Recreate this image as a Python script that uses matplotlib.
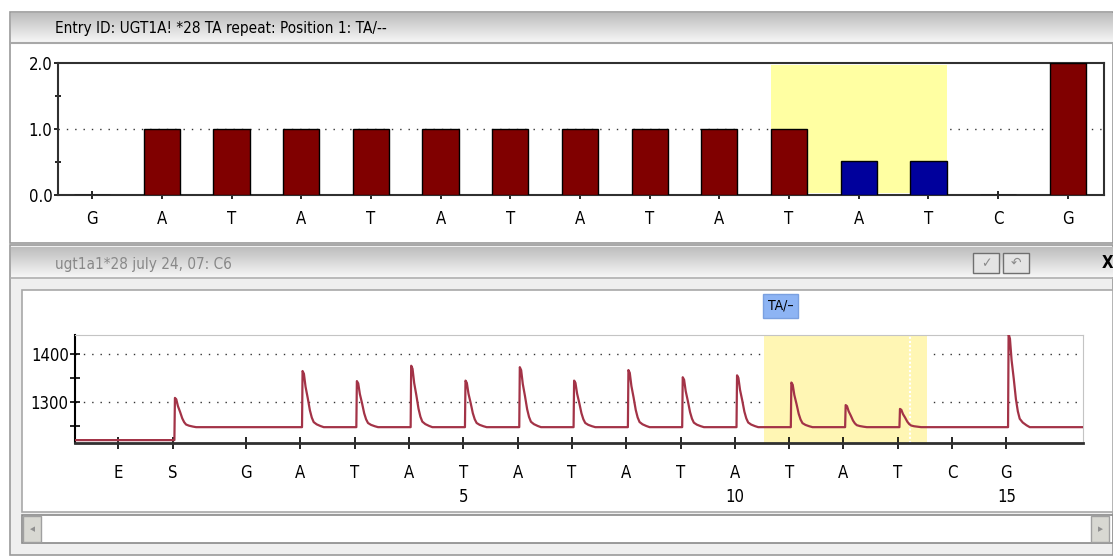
import numpy as np
import matplotlib
matplotlib.use("Agg")
import matplotlib.pyplot as plt
from matplotlib.patches import Rectangle
import matplotlib.transforms as mtransforms

plt.rcParams['font.family'] = ['DejaVu Sans']
plt.rcParams['font.stretch'] = 'condensed'

W, H = 1113, 556

# ---- data: histogram (top panel) ----
hist_labels = ['G', 'A', 'T', 'A', 'T', 'A', 'T', 'A', 'T', 'A', 'T', 'A', 'T', 'C', 'G']
hist_values = [0, 1, 1, 1, 1, 1, 1, 1, 1, 1, 1, 0.52, 0.52, 0, 2.0]
hist_variable = [False] * 11 + [True, True] + [False, False]
hist_span = (9.74, 12.26)

# ---- data: pyrogram (bottom panel) ----
disp_labels = ['E', 'S', 'G', 'A', 'T', 'A', 'T', 'A', 'T', 'A', 'T', 'A', 'T', 'A', 'T', 'C', 'G']
disp_pos = [-1.35, -0.35] + list(range(1, 16))
disp_numbers = [5, 10, 15]
peak_pos = [-0.35, 2, 3, 4, 5, 6, 7, 8, 9, 10, 11, 12, 13, 15]
peak_top = [1309, 1365, 1344, 1376, 1345, 1373, 1345, 1367, 1352, 1356, 1341, 1294, 1286, 1442]
pre_level = 1221
base_level = 1248
# peak profile: offset (dispensations) vs fraction of height
profile_dx = [0.0, 0.01, 0.035, 0.065, 0.105, 0.145, 0.18, 0.215, 0.27, 0.34, 0.40]
profile_fr = [0.0, 1.0, 0.95, 0.72, 0.52, 0.30, 0.17, 0.09, 0.05, 0.02, 0.0]
trace_span = (10.54, 13.54)
trace_gap = 13.23
variant_label = 'TA/\u2013'

title_top = 'Entry ID: UGT1A! *28 TA repeat: Position 1: TA/--'
title_bottom = 'ugt1a1*28 july 24, 07: C6'


def px_box(x0, y0, x1, y1):
    return [x0 / W, 1 - y1 / H, (x1 - x0) / W, (y1 - y0) / H]


fig = plt.figure(figsize=(W / 100, H / 100), dpi=100, facecolor='white')

# window chrome drawn in pixel coordinates
bg = fig.add_axes([0, 0, 1, 1])
bg.set_xlim(0, W)
bg.set_ylim(H, 0)
bg.axis('off')

grad = np.linspace(0, 1, 50).reshape(-1, 1)
bar_cmap = matplotlib.colors.LinearSegmentedColormap.from_list('bar', ['#bdbdbd', '#f6f6f6'])

# top window
bg.add_patch(Rectangle((10, 12), W - 10, 231, fc='white', ec='#9a9a9a', lw=1.2))
bg.imshow(grad, cmap=bar_cmap, aspect='auto', extent=(11, W, 42, 13), zorder=2)
bg.plot([11, W], [42.5, 42.5], color='#a8a8a8', lw=1.5, zorder=3)
bg.text(55, 28, title_top, fontsize=11, va='center', ha='left', color='black', zorder=4)

# bottom window
bg.add_patch(Rectangle((10, 245), W - 10, 310, fc='#efefef', ec='#9a9a9a', lw=1.2))
bg.imshow(grad, cmap=bar_cmap, aspect='auto', extent=(11, W, 277, 247), zorder=2)
bg.plot([11, W], [277.5, 277.5], color='#b0b0b0', lw=1.2, zorder=3)
bg.text(55, 264, title_bottom, fontsize=11, va='center', ha='left', color='#888888', zorder=4)
bg.add_patch(Rectangle((22, 290), W - 22, 222, fc='white', ec='#a8a8a8', lw=1.2, zorder=2))

# buttons in the bottom title bar
for bx, sym in [(973, '\u2713'), (1003, '\u21b6')]:
    bg.add_patch(Rectangle((bx, 253), 26, 20, fc='#e4e4e4', ec='#707070', lw=1.0, zorder=4))
    bg.text(bx + 13, 263, sym, fontsize=10, ha='center', va='center', color='#8a8a8a',
            family='DejaVu Sans', zorder=5)
bg.text(1107, 263, 'X', fontsize=12, ha='center', va='center', color='black',
        fontweight='bold', family='DejaVu Sans', zorder=5)

# scrollbar
bg.add_patch(Rectangle((22, 515), W - 22, 28, fc='white', ec='#8a8a8a', lw=1.2, zorder=2))
bg.add_patch(Rectangle((23, 516), 18, 26, fc='#d8d8d2', ec='#a0a0a0', lw=1.0, zorder=3))
bg.add_patch(Rectangle((1091, 516), 18, 26, fc='#d8d8d2', ec='#a0a0a0', lw=1.0, zorder=3))
bg.text(32, 529, '\u25c2', fontsize=8, ha='center', va='center', color='#909090',
        family='DejaVu Sans', zorder=4)
bg.text(1100, 529, '\u25b8', fontsize=8, ha='center', va='center', color='#909090',
        family='DejaVu Sans', zorder=4)

# ---- top panel: histogram ----
ax1 = fig.add_axes(px_box(58, 63, 1104, 195))
x_hist = np.arange(len(hist_labels))
ax1.axvspan(hist_span[0], hist_span[1], ymin=0.012, ymax=0.988, color='#ffffa2', zorder=1, lw=0)
ax1.axhline(1.0, color='#333333', lw=1.0, ls=(0, (1, 5)), zorder=0.5)
colors = ['#00009c' if v else '#800000' for v in hist_variable]
ax1.bar(x_hist, hist_values, width=0.52, color=colors, edgecolor='black', lw=1.0, zorder=3)
ax1.set_xlim(-0.49, 14.52)
ax1.set_ylim(0, 2.0)
ax1.set_xticks(x_hist)
ax1.set_xticklabels(hist_labels, fontsize=12)
ax1.set_yticks([0, 1.0, 2.0])
ax1.set_yticklabels(['0.0', '1.0', '2.0'], fontsize=12)
ax1.set_yticks([0.5, 1.5], minor=True)
ax1.tick_params(axis='x', direction='inout', length=6, width=1.2, pad=8)
ax1.tick_params(axis='y', which='major', direction='out', length=3, width=1.2, pad=1)
ax1.tick_params(axis='y', which='minor', direction='inout', length=5, width=1.2)
for s in ax1.spines.values():
    s.set_color('#303030')
    s.set_linewidth(1.5)
ax1.set_facecolor('none')

# ---- bottom panel: pyrogram ----
ax2 = fig.add_axes(px_box(75, 335, 1083, 443))
x_left, x_right = -2.15, 16.41
tx = [x_left]
ty = [pre_level]
level = pre_level
for pos, top in zip(peak_pos, peak_top):
    x0 = pos + 0.03
    tx.append(x0)
    ty.append(level)
    for dx, fr in zip(profile_dx[1:], profile_fr[1:]):
        tx.append(x0 + dx)
        ty.append(base_level + (top - base_level) * fr)
    level = base_level
tx.append(x_right)
ty.append(base_level)

for yv in [1300, 1400]:
    ax2.axhline(yv, color='#333333', lw=1.0, ls=(0, (1, 5)), zorder=0.5)
ax2.axvspan(trace_span[0], trace_span[1], color='#fff6b4', lw=0, zorder=1)
ax2.axvline(trace_gap, color='white', lw=1.5, ls=(0, (1, 1)), zorder=1.5)
ax2.plot(tx, ty, color='#a33347', lw=1.6, zorder=3)
ax2.set_xlim(x_left, x_right)
ax2.set_ylim(1215, 1440)
ax2.set_xticks(disp_pos)
ax2.set_xticklabels(disp_labels, fontsize=12)
ax2.set_yticks([1300, 1400])
ax2.set_yticklabels(['1300', '1400'], fontsize=12)
ax2.set_yticks([1250, 1350], minor=True)
ax2.tick_params(axis='x', direction='inout', length=8, width=1.2, pad=11)
ax2.tick_params(axis='y', which='both', direction='inout', length=7, width=1.2, pad=1)
ax2.spines['left'].set_color('black')
ax2.spines['left'].set_linewidth(1.5)
ax2.spines['bottom'].set_color('#303030')
ax2.spines['bottom'].set_linewidth(2.0)
ax2.spines['top'].set_color('#c4c4c4')
ax2.spines['right'].set_color('#c4c4c4')
ax2.set_facecolor('none')

blend = mtransforms.blended_transform_factory(ax2.transData, ax2.transAxes)
for n in disp_numbers:
    ax2.text(n, -0.5, str(n), transform=blend, ha='center', va='center', fontsize=12)
ax2.text(trace_span[0] + 0.3, 1.27, variant_label, transform=blend,
         ha='center', va='center', fontsize=10,
         bbox=dict(boxstyle='square,pad=0.35', fc='#8db4f4', ec='#7aa0e0', lw=1))

fig.savefig('out.png', dpi=100, facecolor='white')
